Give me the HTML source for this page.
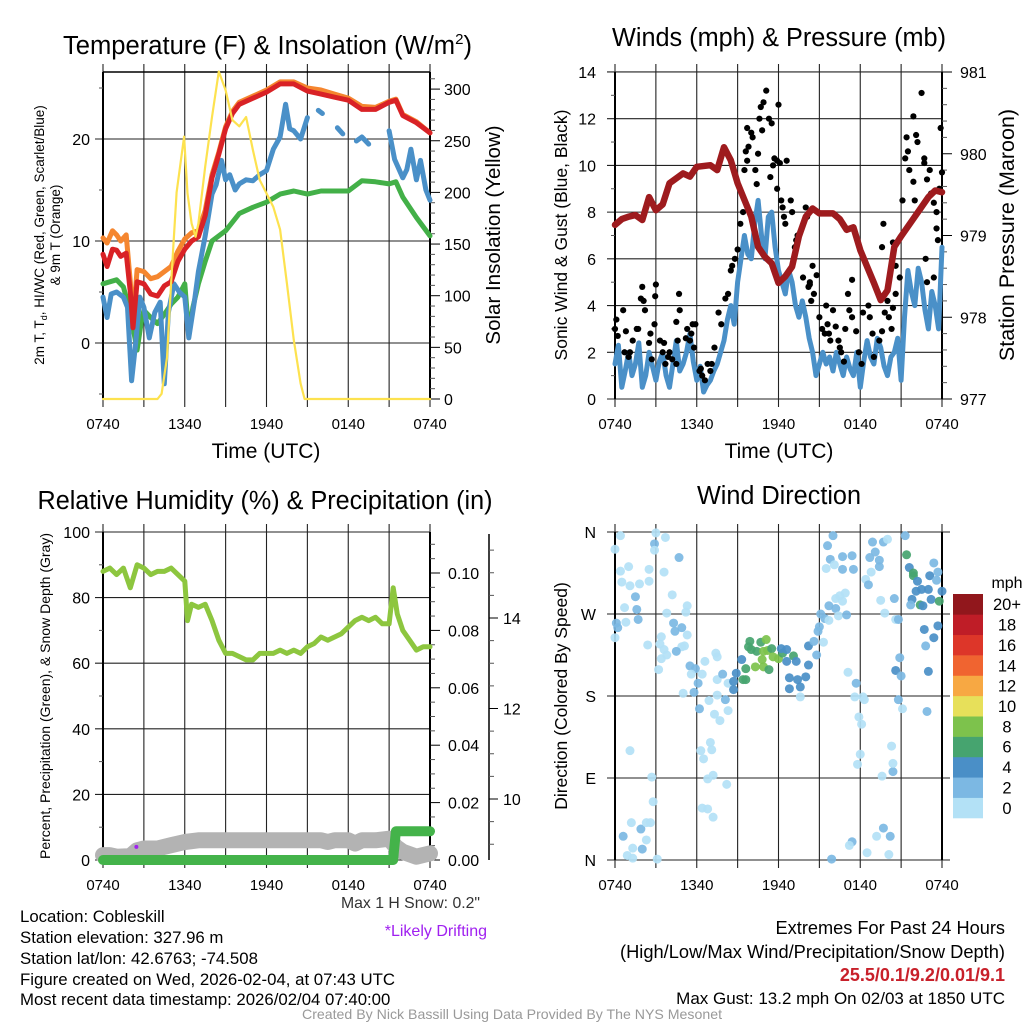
<!DOCTYPE html>
<html><head><meta charset="utf-8">
<style>
html,body{margin:0;padding:0;background:#fff;}
svg{display:block;font-family:"Liberation Sans",sans-serif;}
</style></head>
<body>
<svg id="fig" width="1024" height="1024" viewBox="0 0 1024 1024" xmlns="http://www.w3.org/2000/svg">
<rect width="1024" height="1024" fill="#fff"/>
<g id="p1"></g>
<g id="p2"></g>
<g id="p3"></g>
<g id="p4"></g>
<g id="txt" font-size="16.8">
<text x="63" y="54" font-size="25.5" textLength="409" lengthAdjust="spacingAndGlyphs">Temperature (F) &amp; Insolation (W/m<tspan font-size="15" dy="-10">2</tspan><tspan dy="10">)</tspan></text>
<text x="779" y="46" font-size="25.5" text-anchor="middle" textLength="334" lengthAdjust="spacingAndGlyphs">Winds (mph) &amp; Pressure (mb)</text>
<text x="265" y="509" font-size="25.5" text-anchor="middle" textLength="455" lengthAdjust="spacingAndGlyphs">Relative Humidity (%) &amp; Precipitation (in)</text>
<text x="779" y="504" font-size="25.5" text-anchor="middle" textLength="164" lengthAdjust="spacingAndGlyphs">Wind Direction</text>
<text x="266" y="458" font-size="21" text-anchor="middle">Time (UTC)</text>
<text x="779" y="458" font-size="21" text-anchor="middle">Time (UTC)</text>
<text transform="translate(44,235) rotate(-90)" font-size="13.5" text-anchor="middle">2m T, T<tspan font-size="9" dy="3">d</tspan><tspan dy="-3">, HI/WC (Red, Green, Scarlet/Blue)</tspan></text>
<text transform="translate(60,235) rotate(-90)" font-size="13.5" text-anchor="middle">&amp; 9m T (Orange)</text>
<text transform="translate(500,235) rotate(-90)" font-size="20.5" text-anchor="middle">Solar Insolation (Yellow)</text>
<text transform="translate(567,235) rotate(-90)" font-size="17.5" text-anchor="middle">Sonic Wind &amp; Gust (Blue, Black)</text>
<text transform="translate(1014,235) rotate(-90)" font-size="21.5" text-anchor="middle">Station Pressure (Maroon)</text>
<text transform="translate(50,696) rotate(-90)" font-size="14" text-anchor="middle">Percent, Precipitation (Green), &amp; Snow Depth (Gray)</text>
<text transform="translate(567,696) rotate(-90)" font-size="17.5" text-anchor="middle">Direction (Colored By Speed)</text>
<text x="480" y="908" text-anchor="end" fill="#333" font-size="16" textLength="139" lengthAdjust="spacingAndGlyphs">Max 1 H Snow: 0.2"</text>
<text x="487" y="936" text-anchor="end" fill="#a020f0" font-size="16">*Likely Drifting</text>
<text x="20" y="922">Location: Cobleskill</text>
<text x="20" y="943">Station elevation: 327.96 m</text>
<text x="20" y="964">Station lat/lon: 42.6763; -74.508</text>
<text x="20" y="985" textLength="375" lengthAdjust="spacingAndGlyphs">Figure created on Wed, 2026-02-04, at 07:43 UTC</text>
<text x="20" y="1005">Most recent data timestamp: 2026/02/04 07:40:00</text>
<text x="1005" y="934" text-anchor="end" font-size="18.2">Extremes For Past 24 Hours</text>
<text x="1005" y="958" text-anchor="end" font-size="18.2" textLength="385" lengthAdjust="spacingAndGlyphs">(High/Low/Max Wind/Precipitation/Snow Depth)</text>
<text x="1005" y="981" text-anchor="end" fill="#c8202a" font-weight="bold" font-size="18">25.5/0.1/9.2/0.01/9.1</text>
<text x="1005" y="1004" text-anchor="end" font-size="17">Max Gust: 13.2 mph On 02/03 at 1850 UTC</text>
<text x="512" y="1019" text-anchor="middle" font-size="14" fill="#999" textLength="420" lengthAdjust="spacingAndGlyphs">Created By Nick Bassill Using Data Provided By The NYS Mesonet</text>
</g>
</svg>
<script>
// ---------- DATA (hours since 0740 UTC) ----------
const timeTickLabels = ["0740","1340","1940","0140","0740"];
const tempTicks = [0,10,20];
const insoTicks = [0,50,100,150,200,250,300];
const windTicks = [0,2,4,6,8,10,12,14];
const presTicks = [977,978,979,980,981];
const rhTicks = [0,20,40,60,80,100];
const precipTicks = [0,0.02,0.04,0.06,0.08,0.10];
const snowTicks = [10,12,14];
const dirTicks = ["N","E","S","W","N"];
const speedBinLabels = ["0","2","4","6","8","10","12","14","16","18","20+"];
const speedBinColors = ["#b3e1f6","#7cb8e3","#4a8fc7","#46a46f","#7dc24c","#e7e05a","#f7a843","#f06430","#dd3629","#bf1d27","#91171c"];

const tempT = [[0,8.7],[0.3,7.5],[0.7,9.2],[1,9.1],[1.3,8.5],[1.7,8.8],[2,5],[2.2,1.5],[2.5,6],[3,5.8],[3.5,4.8],[4,4.6],[4.5,5.6],[5,6],[5.5,8],[6,9.2],[6.5,10],[7,10.4],[7.5,12.5],[8,16.2],[8.5,18.5],[9,21],[9.5,22.5],[10,23.4],[11,24],[12,24.6],[13,25.4],[14,25.4],[15,24.7],[16,24.4],[17,24.1],[18,23.8],[19,22.9],[20,22.9],[21,23.6],[21.5,23.8],[22,22.3],[23,21.6],[24,20.6]];
const temp9m = [[0,10.3],[0.3,9.8],[0.7,11],[1,10.6],[1.3,10],[1.7,10.6],[2,6],[2.2,2],[2.5,7.2],[3,7],[3.5,6.3],[4,6.5],[4.5,7],[5,7.5],[5.5,9],[6,10.2],[6.5,10.8],[7,11],[7.5,13],[8,16.5],[8.5,18.7],[9,21.2],[9.5,22.7],[10,23.6],[11,24.2],[12,24.8],[13,25.6],[14,25.6],[15,25],[16,24.8],[17,24.4],[18,24],[19,23.2],[20,23.1],[21,23.7],[21.5,23.9],[22,22.4],[23,21.7],[24,20.6]];
const dewpoint = [[0,5.8],[0.5,6],[1,6.2],[1.5,5.5],[2,3],[2.5,-0.7],[2.8,2],[3,3.2],[3.5,2.5],[4,1.9],[4.5,2.8],[5,3.8],[5.5,4.5],[6,5.8],[6.3,0.9],[6.6,3.5],[7,5.8],[7.5,8],[8,10],[8.5,10.5],[9,11],[10,12.7],[11,13.3],[12,13.8],[13,14.6],[14,14.9],[15,14.6],[16,14.9],[17,14.9],[18,14.9],[19,15.9],[20,15.8],[21,15.6],[21.5,15.8],[22,14.3],[23,12.3],[24,10.5]];
const windChill = [[0,4.5],[0.3,2.5],[0.6,4.8],[1,5],[1.5,4.5],[1.8,3.5],[2.1,-3.7],[2.4,0],[2.7,4.5],[3,3.5],[3.4,0.5],[3.8,3],[4.2,4],[4.5,-4],[4.8,3],[5.2,5.8],[5.6,5],[6,4.5],[6.3,0.5],[6.7,4],[7,7],[7.5,10.5],[8,14.6],[8.3,15.5],[8.7,17.9],[9,16],[9.3,16.5],[9.7,15],[10,15.6],[10.5,16],[11,15.9],[11.5,16.5],[12,16.9],[12.5,19],[13,20.2],[13.4,23.4],[13.7,21],[14,20.8],[14.5,20],[15,22.1],null,[15.8,22.8],[16.1,22.5],null,[17.2,21.1],[17.6,20.5],null,[18.6,19.8],[19,20.2],[19.5,19.5],null,[21,20.8],[21.4,18],[22,16.2],[22.3,17],[22.6,19],[23,16],[23.3,17.9],[23.7,15],[24,14]];
const insolation = [[0,0],[4,0],[4.3,5],[4.7,40],[5,112],[5.4,200],[5.95,254],[6.2,199],[6.5,170],[6.8,157],[7,170],[7.5,225],[8,273],[8.5,317],[9,299],[9.5,270],[10,264],[10.5,273],[11,241],[11.5,212],[12,199],[12.5,186],[13,164],[13.5,112],[14,57],[14.5,15],[14.8,0],[24,0]];

const sonicWind = [[0,1.5],[0.25,2.3],[0.5,0.5],[0.75,1.2],[1,2],[1.25,1],[1.5,1.5],[1.75,2.4],[2,0.5],[2.25,1],[2.5,2],[2.75,1.4],[3,0.8],[3.25,1.6],[3.5,2],[3.75,1],[4,0.5],[4.25,1.5],[4.5,2.5],[4.75,1.2],[5,1.5],[5.25,2],[5.5,2.8],[5.75,1.6],[6,0.8],[6.25,1.4],[6.5,0.3],[6.75,0.6],[7,0.8],[7.25,1.2],[7.5,1.5],[7.75,2],[8,2.5],[8.25,3.4],[8.5,4],[8.75,3.2],[9,5],[9.25,6],[9.5,7],[9.75,6.2],[10,6],[10.25,7.5],[10.5,8.5],[10.75,7],[11,6],[11.25,7.8],[11.5,8],[11.75,6.5],[12,5.5],[12.25,5],[12.5,4.5],[12.75,5.5],[13,5],[13.25,4],[13.5,3.5],[13.75,4.2],[14,3.5],[14.25,2.6],[14.5,2],[14.75,1],[15,1.5],[15.25,2],[15.5,1.5],[15.75,1.8],[16,1.2],[16.25,2],[16.5,1.5],[16.75,1],[17,1.8],[17.25,1.3],[17.5,1],[17.75,2],[18,0.5],[18.25,1.6],[18.5,2.5],[18.75,1.8],[19,1.5],[19.25,2.6],[19.5,2.2],[19.75,1.4],[20,1],[20.25,1.8],[20.5,2],[20.75,2.6],[21,0.8],[21.25,3.5],[21.5,5.5],[21.75,4.6],[22,4],[22.25,5.6],[22.5,5],[22.75,3.8],[23,3],[23.25,4.6],[23.5,4],[23.75,3],[24,6.5]];
const pressure = [[0,979.13],[0.5,979.2],[1,979.23],[1.5,979.25],[2,979.19],[2.5,979.47],[3,979.31],[3.5,979.38],[4,979.64],[5,979.76],[5.5,979.72],[6,979.84],[7,979.86],[7.5,979.8],[8,980.08],[8.5,979.92],[9,979.64],[10,979.23],[10.5,978.86],[11,978.74],[11.5,978.66],[12,978.42],[12.5,978.5],[13,978.62],[13.5,978.99],[14,979.23],[14.5,979.33],[15,979.27],[16,979.27],[16.5,979.2],[17,979.07],[17.5,979.1],[18,978.82],[18.5,978.62],[19,978.42],[19.5,978.21],[20,978.33],[20.5,978.86],[21,978.99],[22,979.23],[23,979.47],[23.5,979.55],[24,979.53]];
const gusts = [[0,3],[0.1,3.4],[0.2,2.7],[0.6,3.8],[0.7,2],[1,1.8],[0.8,2.9],[1.1,2],[1.3,2.5],[1.6,3],[1.7,3],[2,4.8],[1.9,4.3],[2.1,4.2],[2.2,3.8],[2.5,2.4],[2.7,1.7],[2.9,3.2],[2.6,2.8],[3,4.9],[2.95,4.4],[3.3,2.5],[3.5,2],[3.7,1.5],[3.9,1.8],[3.6,2.4],[4,2],[4.2,1.7],[4.5,1.5],[4.6,2.5],[4.7,4.5],[4.75,3.8],[4.5,3.3],[5.7,3.2],[5.9,3.2],[5.5,2.5],[5.3,3],[5.6,2.8],[5.8,2.2],[5.2,2.6],[6.2,1.2],[6.4,1],[6.6,0.8],[6.3,1.3],[6.8,1.5],[7,1.2],[7.1,1.5],[7.3,2.2],[7.6,3.7],[7.8,3.2],[8.1,4.3],[8.3,4.5],[8.5,5.5],[8.6,5.7],[8.8,6],[9,6.4],[9.2,7.5],[9.4,8],[9.5,9.8],[9.6,10.6],[9.7,11.6],[9.7,10.2],[9.8,10.8],[10,11.4],[10.1,11.2],[10.3,9.8],[10.4,9.2],[10.5,10.5],[10.6,12],[10.7,12.5],[11.1,13.2],[10.9,12.7],[10.8,11.5],[11.3,12],[11.5,11.8],[11.7,10.3],[11.4,9.5],[11.9,10.2],[12.1,10.1],[12,12.6],[11.6,10],[11.9,9],[12.2,8.5],[12.3,8.2],[12.4,7.8],[12.5,7.5],[12.6,10.2],[12.9,8.5],[13,8],[13.3,6.8],[13.4,7],[13.2,6.5],[14,8.2],[14.1,7.8],[13.8,5.2],[14.3,5],[14.6,4.5],[14.5,5.7],[14.3,4.9],[14.8,5.3],[14.4,4.2],[14.2,4.8],[15,3.5],[15.2,3],[15.4,2.8],[15.8,2.5],[15.6,3.2],[15.5,4],[15.7,2.8],[16,3.8],[16.2,3.1],[16.4,2.5],[16.6,2],[16.8,1.6],[16.5,2.2],[16.9,3],[17.1,4.5],[17.4,5.1],[17.2,3.8],[17.4,3.5],[17.7,2.9],[17.9,2],[18.1,1.5],[18.2,3.7],[18.6,4],[18.7,3.5],[18.9,2.8],[19,1.8],[19.4,2.5],[19.6,2.9],[19.8,3.7],[20,4.2],[19.6,6.5],[19.7,7.5],[20.1,3.5],[20.3,3],[20.4,3.9],[20.6,5.7],[20.4,6.7],[20.6,4.5],[20.9,5.2],[21.1,8.5],[21.3,10.3],[21.4,11.2],[21.5,10.6],[21.6,9.8],[21.9,12.1],[22.1,11.3],[22.2,11],[21.9,9.3],[22,8.5],[22.5,13.1],[22.7,10.1],[22.9,9.4],[23.2,8.8],[22.8,6],[23.1,9.8],[22.7,10.3],[22.9,5],[23.4,5.2],[23.6,7.3],[23.4,8.4],[23.8,9],[23.9,11.6],[24,9.7],[23.6,8],[23.7,6.8]];

const relHum = [[0,88],[0.5,89],[1,87],[1.5,89],[2,83],[2.5,90],[3,89],[3.5,87],[4,88],[4.5,88],[5,89],[5.5,87],[6,85],[6.2,73],[6.5,78],[7,77],[7.5,78],[8,73],[8.5,67],[9,63],[9.5,63],[10,62],[10.5,61],[11,61],[11.5,63],[12,63],[12.5,63],[13,64],[13.5,63],[14,64],[14.5,63],[15,65],[15.5,66],[16,68],[16.5,67],[17,68],[17.5,69],[18,71],[18.5,73],[19,74],[19.5,73],[20,74],[20.5,72],[21,72],[21.3,83],[21.6,75],[22,70],[22.5,67],[23,64],[23.5,65],[24,65]];
const precip = [[0,0],[21.3,0],[21.35,0.003],[21.5,0.01],[24,0.01]];
const snowDepth = [[0,1.5],[0.5,1.5],[1,1],[2,1.2],[2.5,3],[3,3.5],[4,3.5],[5,4.5],[6,5.5],[7,6],[10,6],[14,6],[16,6],[16.5,5.5],[17,6],[18,6],[18.5,5],[19,6],[20,6],[21,6.5],[21.5,4],[22,2.5],[23,1],[24,2]];
const driftFlags = [[2.45,4]];

const windDir = [[0.4,356,0],[0,341,0],[0.4,317,0],[1,322,0],[0.5,305,0],[1.1,301,0],[1.8,303,0],[2.5,306,0],[1.5,289,1],[0.7,277,0],[1.6,275,1],[1.7,264,1],[0.1,260,1],[0.2,255,1],[0,244,0],[0.8,261,0],[2.4,236,0],[1.1,120,0],[2.7,91,0],[2.8,64,0],[1.2,41,0],[0.6,26,1],[1.9,34,1],[2.3,41,0],[2.6,41,0],[2.3,22,0],[1.3,13,0],[2,12,1],[0.9,5,0],[1.3,2,0],[3.1,1,0],[3,359,0],[2.9,347,1],[2.9,340,0],[3.7,354,0],[4.7,332,1],[2.5,319,0],[3.6,316,0],[4.2,291,0],[5.3,279,0],[3.8,271,0],[5.2,272,0],[4.3,260,1],[4.9,255,1],[4.4,251,1],[5.3,247,0],[3.4,245,0],[3.3,237,0],[3.6,231,0],[3.4,221,0],[3.8,225,0],[4.9,234,0],[5.1,235,0],[4.5,229,1],[3.2,209,0],[5,183,0],[5.5,213,1],[5.9,210,1],[5.6,204,0],[6.4,204,0],[6.1,194,1],[5.8,184,1],[6.6,218,0],[7.4,227,0],[7.5,223,0],[7.5,198,0],[7.9,204,1],[8.3,194,0],[8.7,196,2],[8.7,187,2],[8.9,205,2],[9.3,220,2],[9.6,210,3],[9.4,198,3],[9.6,198,3],[7.5,181,0],[8.1,176,1],[8.3,164,0],[6.9,175,0],[7.3,160,0],[7.7,153,0],[6.2,166,1],[6.3,120,0],[6.5,111,0],[7,129,0],[7.1,121,0],[7.2,93,0],[6.8,89,0],[8.2,83,0],[6.4,57,0],[6.8,56,0],[7.2,47,0],[9.9,240,3],[9.8,234,3],[10,231,3],[10.4,229,3],[10.7,239,3],[11.1,242,4],[10.9,229,4],[11.2,230,4],[10.8,220,4],[10.9,212,4],[10.3,212,4],[11.3,209,3],[11.5,232,3],[11.6,223,4],[12,221,4],[12.3,227,3],[12.2,232,2],[12.6,231,2],[13.1,224,3],[12.6,218,2],[13.3,218,2],[12.8,200,2],[12.8,188,2],[13.4,198,2],[13.6,190,2],[13.6,179,0],[14,201,2],[14.2,214,2],[14.2,235,2],[14.6,240,1],[14.8,225,1],[15.3,239,0],[14.9,251,1],[15,256,1],[15.1,270,1],[15.4,265,1],[15.7,263,0],[15.7,279,1],[16.2,276,1],[16.4,268,0],[17,269,1],[16.2,287,0],[16.5,290,0],[16.9,293,0],[16.7,284,0],[15.5,320,0],[15.8,330,1],[16.1,324,0],[15.6,345,1],[16,356,1],[16.7,319,1],[16.7,333,1],[17.4,334,1],[17.5,319,1],[17.1,206,0],[17.7,194,1],[17.6,179,0],[18.2,179,0],[18.3,176,0],[17.9,157,0],[18.1,149,0],[18,116,0],[17.8,105,0],[17.4,20,1],[17.2,16,0],[15.9,1,1],[18.5,8,0],[19.2,26,0],[19.7,35,1],[20.2,26,1],[20.1,6,0],[19.6,92,0],[20.4,97,1],[20.4,106,0],[20.3,125,0],[18.4,308,0],[18.6,302,1],[18.8,316,0],[18.7,332,1],[19.1,338,1],[19.4,329,1],[19.4,322,1],[18.9,349,1],[19.7,349,1],[20,352,0],[19.5,285,0],[19.8,271,0],[20.5,287,1],[20.6,264,0],[20.8,264,1],[20.9,222,1],[20.6,208,2],[21,202,1],[20.8,176,1],[21.1,166,0],[22.9,163,1],[23,207,2],[22.8,235,1],[22.7,253,2],[23.4,244,2],[23.7,257,2],[21.3,356,1],[21.4,335,3],[21.6,321,2],[21.9,315,3],[21.9,312,3],[22.2,306,2],[22.1,295,2],[22.5,297,2],[23,297,2],[21.8,286,2],[21.7,280,1],[22.4,280,3],[22.6,279,2],[23.1,312,2],[23.4,326,1],[23.6,307,1],[23.7,316,1],[23.2,286,2],[23.8,284,3],[24,295,2]];

// ---------- DRAWING ----------
const NS="http://www.w3.org/2000/svg";
function mk(parent,tag,attrs){const e=document.createElementNS(NS,tag);for(const k in attrs)e.setAttribute(k,attrs[k]);parent.appendChild(e);return e;}
function panel(x0,x1,y0,y1){return {x0,x1,y0,y1,X:h=>x0+h/24*(x1-x0)};}
function pathFrom(pts,X,Y){let d="",pen=false;for(const p of pts){if(p===null){pen=false;continue;}d+=(pen?"L":"M")+X(p[0]).toFixed(1)+","+Y(p[1]).toFixed(1);pen=true;}return d;}
function grid(g,P,yVals,Y,hExt){
  for(let i=0;i<=8;i++){const x=P.X(i*3);
    const l=mk(g,"line",{x1:x,x2:x,y1:P.y0-8,y2:P.y1+8,stroke:"#222","stroke-width":1.1});
    
    }
  for(const v of yVals){const y=Y(v);
    const l=mk(g,"line",{x1:P.x0-(hExt||8),x2:P.x1+(hExt===undefined?0:hExt),y1:y,y2:y,stroke:"#222","stroke-width":1.1});
    
    }
  const fr=mk(g,"line",{x1:P.x0,x2:P.x0,y1:P.y0,y2:P.y1,stroke:"#000","stroke-width":2});
  
  
  const fr2=mk(g,"line",{x1:P.x1,x2:P.x1,y1:P.y0,y2:P.y1,stroke:"#000","stroke-width":2});
  
  
  timeTickLabels.forEach((t,i)=>{const tx=mk(g,"text",{x:P.X(i*6),y:P.y1+30,"font-size":15,"text-anchor":"middle"});tx.textContent=t;
    
    });
}
function label(g,x,y,txt,anchor,size){const t=mk(g,"text",{x,y,"font-size":size||16,"text-anchor":anchor||"end"});t.textContent=txt;
  
  return t;}
function line(g,d,color,w,name){const p=mk(g,"path",{d,fill:"none",stroke:color,"stroke-width":w,"stroke-linejoin":"round","stroke-linecap":"round"});
  
  return p;}
function minor(g,x,ys,len){for(const y of ys){const l=mk(g,"line",{x1:x,x2:x+len,y1:y,y2:y,stroke:"#555","stroke-width":1});
  
  }}

// Panel 1
(function(){
 const g=document.getElementById("p1");const P=panel(103,430,72,399);
 const Y=v=>343-v*10.2, YR=v=>399-v*1.033;
 grid(g,P,tempTicks,Y);
 tempTicks.forEach(v=>label(g,90,Y(v)+6,String(v)));
 minor(g,99,[-5,5,15,25].map(Y),4);
 insoTicks.forEach(v=>{mk(g,"line",{x1:P.x1,x2:P.x1+10,y1:YR(v),y2:YR(v),stroke:"#000"});label(g,444,YR(v)+6,String(v),"start");});
 const mt=[];for(let v=10;v<=310;v+=10)if(v%50)mt.push(YR(v));minor(g,P.x1,mt,5);
 mk(g,"line",{x1:P.x0,x2:P.x1,y1:P.y0,y2:P.y0,stroke:"#000","stroke-width":1.5});
 line(g,pathFrom(temp9m,P.X,Y),"#f5862f",5,"9m-temperature-line");
 line(g,pathFrom(dewpoint,P.X,Y),"#43b048",5,"dewpoint-line");
 line(g,pathFrom(windChill,P.X,Y),"#4a90c8",5,"wind-chill-line");
 line(g,pathFrom(tempT,P.X,Y),"#d92226",5,"temperature-line");
 line(g,pathFrom(insolation,P.X,YR),"#fde24f",2.2,"insolation-line");
})();

// Panel 2
(function(){
 const g=document.getElementById("p2");const P=panel(615,942,72,399);
 const Y=v=>399-v*23.36, YR=v=>399-(v-977)*81.75;
 grid(g,P,windTicks,Y);
 windTicks.forEach(v=>label(g,596,Y(v)+6,String(v)));
 minor(g,611,[1,3,5,7,9,11,13].map(Y),4);
 presTicks.forEach(v=>{mk(g,"line",{x1:P.x1,x2:P.x1+10,y1:YR(v),y2:YR(v),stroke:"#000"});label(g,960,YR(v)+6,String(v),"start");});
 const mt=[];for(let i=1;i<20;i++)if(i%5)mt.push(YR(977+i*0.2));minor(g,P.x1,mt,5);
 line(g,pathFrom(sonicWind,P.X,Y),"#4a90c8",5,"sonic-wind-line");
 gusts.forEach(p=>{const c=mk(g,"circle",{cx:P.X(p[0]),cy:Y(p[1]),r:3.1,fill:"#000"});
   
   });
 line(g,pathFrom(pressure,P.X,YR),"#9e1b1e",6.5,"pressure-line");
})();

// Panel 3
(function(){
 const g=document.getElementById("p3");const P=panel(103,430,532,860);
 const Y=v=>860-v*3.28, YP=v=>860-v*2870, YS=v=>799-(v-10)*45.25;
 grid(g,P,rhTicks,Y);
 rhTicks.forEach(v=>label(g,90,Y(v)+6,String(v)));
 minor(g,99,[10,30,50,70,90].map(Y),4);
 precipTicks.forEach(v=>{mk(g,"line",{x1:P.x1,x2:P.x1+10,y1:YP(v),y2:YP(v),stroke:"#000"});label(g,448,YP(v)+6,v.toFixed(2),"start");});
 const mt=[];for(let i=1;i<=11;i++)if(i%2)mt.push(YP(i*0.01));for(let i=1;i<=22;i++)if(i%2)mt.push(YP(i*0.005));minor(g,P.x1,mt,5);
 const sa=mk(g,"line",{x1:489,x2:489,y1:534,y2:860,stroke:"#000","stroke-width":1.5});
 
 
 snowTicks.forEach(v=>{mk(g,"line",{x1:489,x2:498,y1:YS(v),y2:YS(v),stroke:"#000"});label(g,503,YS(v)+6,String(v),"start");});
 minor(g,489,[9,9.5,10.5,11,11.5,12.5,13,13.5,14.5,15,15.5].map(YS),5);
 line(g,pathFrom(snowDepth,P.X,Y),"#b3b3b3",16,"snow-depth-line");
 line(g,pathFrom(precip,P.X,YP),"#44b34a",10,"precipitation-line");
 line(g,pathFrom(relHum,P.X,Y),"#8dc63f",5,"relative-humidity-line");
 driftFlags.forEach(p=>{const c=mk(g,"circle",{cx:P.X(p[0]),cy:Y(p[1]),r:2,fill:"#a020f0"});
   
   });
})();

// Panel 4
(function(){
 const g=document.getElementById("p4");const P=panel(615,942,532,860);
 const Y=d=>860-d*(328/360);
 grid(g,P,[0,90,180,270,360],Y,8);
 dirTicks.forEach((t,i)=>label(g,596,Y(i*90)+6,t));
 windDir.forEach(p=>{const c=mk(g,"circle",{cx:P.X(p[0]),cy:Y(p[1]),r:4.5,fill:speedBinColors[p[2]],opacity:0.92});
   
   });
 const bh=(818-594)/speedBinColors.length;
 speedBinColors.forEach((c,i)=>{const r=mk(g,"rect",{x:953,y:818-(i+1)*bh,width:30,height:bh+0.3,fill:c});
   
   
   const t=label(g,1007,818-(i+0.5)*bh+6,speedBinLabels[i],"middle",16.5);
   });
 const m=label(g,1007,588,"mph","middle",16);
 
})();
</script>
</body></html>
